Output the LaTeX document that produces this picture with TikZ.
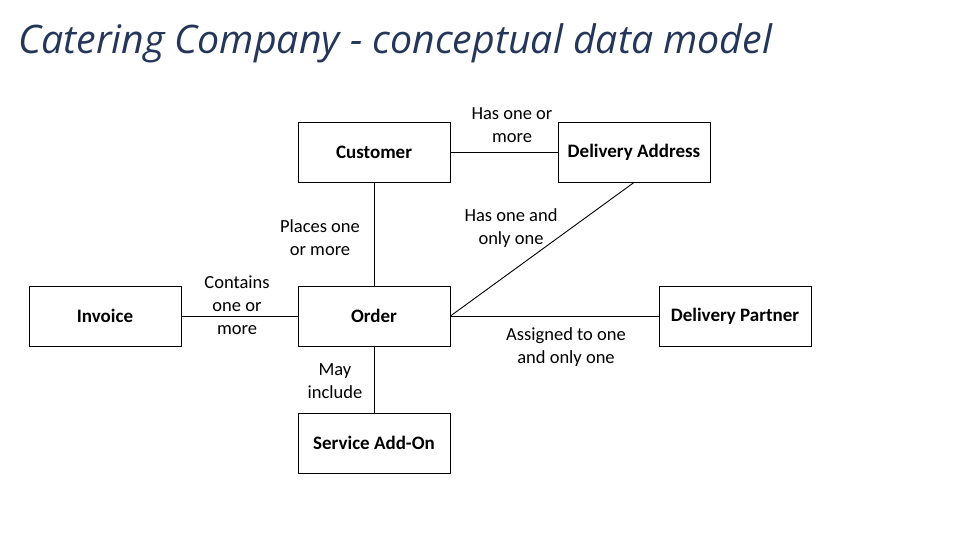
\documentclass[tikz,border=0pt]{standalone}
\usepackage{fontspec}
\setmainfont{Carlito}
\newfontfamily\titlefont{Open Sans}
\usetikzlibrary{positioning}
\definecolor{titleblue}{HTML}{243659}

\begin{document}
\begin{tikzpicture}[x=1pt, y=-1pt,
    entity/.style={rectangle, draw=black, line width=0.9pt, minimum width=152pt, minimum height=60pt, align=center, font=\fontsize{19}{22}\selectfont\bfseries},
    link/.style={line width=0.9pt},
    rel/.style={align=center, font=\fontsize{18.5}{23}\selectfont},
]
\useasboundingbox (0,0) rectangle (960,540);

% Title
\node[font=\titlefont\itshape\fontsize{39.3}{44}\selectfont, text=titleblue, anchor=base west, inner sep=0pt] (title) at (18,54) {Catering Company - conceptual data model};

% Entities
\node[entity] (customer) at (374,152) {Customer};
\node[entity] (address) at (634,152) {Delivery Address};
\node[entity] (invoice) at (105,316) {Invoice};
\node[entity] (order) at (374,316) {Order};
\node[entity] (partner) at (735,316) {Delivery Partner};
\node[entity] (addon) at (374,443) {Service Add-On};

% Relationships
\draw[link] (customer) -- (address);
\draw[link] (customer) -- (order);
\draw[link] (invoice) -- (order);
\draw[link] (order) -- (addon);
\draw[link] (order.east) -- (address.south);
\draw[link] (order.east) -- (partner.west);

% Relationship labels
\node[rel] (hasmore) at (512,125) {Has one or\\more};
\node[rel] (places) at (320,238) {Places one\\or more};
\node[rel] (contains) at (237,305) {Contains\\one or\\more};
\node[rel] (hasone) at (511,228) {Has one and\\only one};
\node[rel] (assigned) at (566,347) {Assigned to one\\and only one};
\node[rel] (mayinc) at (335,381) {May\\include};

\end{tikzpicture}
\end{document}
